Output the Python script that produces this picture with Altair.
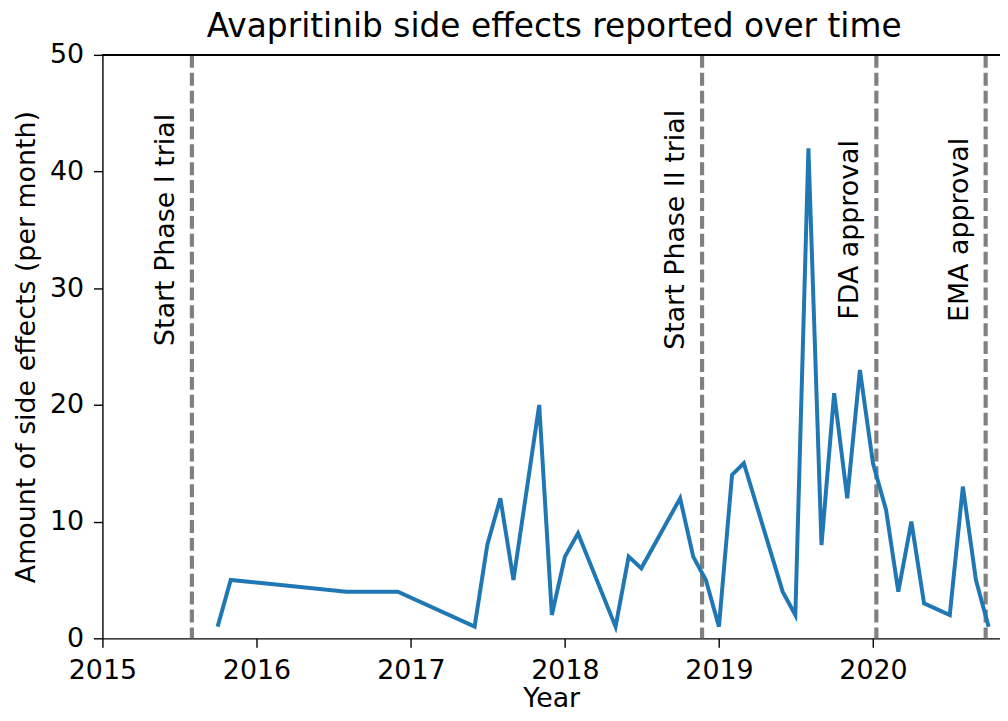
import altair as alt
import pandas as pd

# ---- data ----
months = ["2015-10-01", "2015-11-01", "2016-08-01", "2016-12-01", "2017-06-01",
          "2017-07-01", "2017-08-01", "2017-09-01", "2017-11-01", "2017-12-01",
          "2018-01-01", "2018-02-01", "2018-05-01", "2018-06-01", "2018-07-01",
          "2018-10-01", "2018-11-01", "2018-12-01", "2019-01-01", "2019-02-01",
          "2019-03-01", "2019-06-01", "2019-07-01", "2019-08-01", "2019-09-01",
          "2019-10-01", "2019-11-01", "2019-12-01", "2020-01-01", "2020-02-01",
          "2020-03-01", "2020-04-01", "2020-05-01", "2020-07-01", "2020-08-01",
          "2020-09-01", "2020-10-01"]
counts = [1, 5, 4, 4, 1,
          8, 12, 5, 20, 2,
          7, 9, 1, 7, 6,
          12, 7, 5, 1, 14,
          15, 4, 2, 42, 8,
          21, 12, 23, 15, 11,
          4, 10, 3, 2, 13,
          5, 1]
event_dates = ["2015-08-01", "2018-11-22", "2020-01-09", "2020-09-24"]
event_labels = ["Start Phase I trial", "Start Phase II trial", "FDA approval", "EMA approval"]
label_level = 35
y_ticks = [0, 10, 20, 30, 40, 50]

df = pd.DataFrame({"date": months, "count": counts})
ev = pd.DataFrame({"date": event_dates, "label": event_labels, "level": [label_level] * 4})

FONT = "DejaVu Sans"

xscale = alt.Scale(type="utc",
                   domain=[alt.DateTime(year=2015, month=1, date=1, utc=True),
                           alt.DateTime(year=2020, month=10, date=28, utc=True)])
yscale = alt.Scale(domain=[0, 50], nice=False, zero=True)

xaxis = alt.Axis(title="Year", format="%Y", tickCount={"interval": "year", "step": 1},
                 labelFlush=False, labelOverlap=False, grid=False,
                 labelPadding=10, titlePadding=3)
yaxis = alt.Axis(title="Amount of side effects (per month)", values=y_ticks,
                 grid=False, labelPadding=10, titlePadding=9)

line = alt.Chart(df).mark_line(color="#1f77b4", strokeWidth=4, clip=True).encode(
    x=alt.X("date:T", scale=xscale, axis=xaxis),
    y=alt.Y("count:Q", scale=yscale, axis=yaxis),
)

vlines = alt.Chart(ev).mark_rule(color="#808080", strokeWidth=4.2,
                                 strokeDash=[13, 5]).encode(
    x=alt.X("date:T", scale=xscale)
)

texts = alt.Chart(ev).mark_text(angle=270, align="center", baseline="alphabetic",
                                dy=-18, fontSize=27, font=FONT, color="black").encode(
    x=alt.X("date:T", scale=xscale),
    y=alt.Y("level:Q", scale=yscale),
    text="label:N",
)

top_spine = alt.Chart(df).mark_rule(color="black", strokeWidth=1.4).encode(
    y=alt.datum(50)
)

chart = alt.layer(vlines, line, texts, top_spine).properties(
    width=903,
    height=587,
    background="white",
    title=alt.Title("Avapritinib side effects reported over time",
                    fontSize=33, font=FONT, fontWeight="normal", color="black",
                    anchor="middle", offset=5, dy=8, dx=3),
    autosize=alt.AutoSizeParams(type="none"),
    padding={"left": 95, "top": 45, "right": 0, "bottom": 76},
).configure_view(
    stroke=None
).configure_axis(
    labelFont=FONT, titleFont=FONT, labelFontSize=27, titleFontSize=27,
    labelColor="black", titleColor="black", titleFontWeight="normal",
    domainColor="black", tickColor="black", domainWidth=1.4, tickWidth=1.4,
    tickSize=9,
)

chart.save("out.html", embed_options={"renderer": "svg", "actions": False})
